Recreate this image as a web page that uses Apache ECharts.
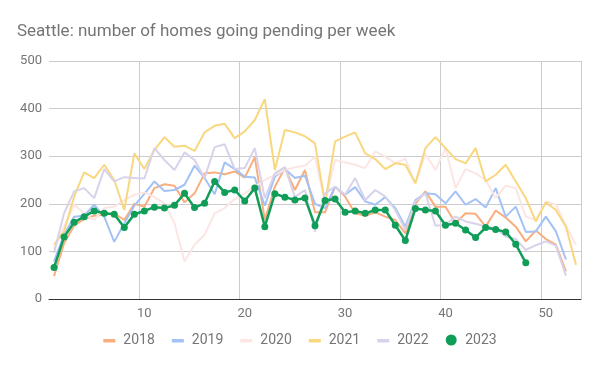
<!DOCTYPE html>
<html><head><meta charset="utf-8">
<script src="https://cdn.jsdelivr.net/npm/echarts@6/dist/echarts.min.js"></script>
<style>html,body{margin:0;padding:0;background:#fff}#c{width:600px;height:371px}</style>
</head><body><div id="c"></div>
<script>
const weeks = Array.from({length:53},(_,i)=>String(i+1));
const s2018 = [48,117,154,168,175,177,180,166,200,194,233,241,238,203,222,264,266,262,268,255,298,166,236,275,229,271,182,182,236,215,180,175,182,173,166,138,200,226,194,194,159,180,179,152,186,171,152,121,144,126,114,58];
const s2019 = [79,135,173,175,198,173,120,159,196,221,247,227,229,240,280,254,220,287,273,257,255,196,257,273,254,259,200,191,236,219,235,205,198,214,191,152,208,222,220,201,226,198,210,192,233,173,194,141,142,173,142,83];
const s2020 = [105,152,198,180,166,191,194,208,219,224,214,201,159,79,114,135,180,191,210,222,236,250,261,271,277,280,299,201,292,287,282,275,310,299,285,295,243,305,271,317,233,273,264,250,212,238,233,173,166,205,198,154,114];
const s2021 = [114,142,215,266,254,282,250,187,306,273,313,340,320,322,311,350,364,368,338,352,376,420,271,355,350,342,327,201,331,341,350,306,294,273,285,282,243,317,340,317,294,285,317,247,261,282,247,212,163,203,187,152,72];
const s2022 = [97,180,226,233,212,273,247,256,254,253,317,292,271,308,292,254,319,325,273,275,317,212,264,277,214,229,142,222,236,219,254,208,229,215,187,145,205,222,154,156,173,163,158,152,149,131,126,103,113,121,112,49];
const s2023 = [66,130,161,173,185,180,178,150,178,185,193,191,197,222,192,201,247,224,229,206,233,152,221,214,208,212,154,207,210,182,185,180,187,187,155,123,190,187,185,155,159,145,129,150,146,141,115,76];
const yTicks = [0,100,200,300,400,500];
const xLabelWeeks = [10,20,30,40,50];

const chart = echarts.init(document.getElementById('c'), null, {renderer:'canvas'});
const bar = 'path://M0,0L0,0M0,11L0,11M0,4.5h12v3.5h-12z';
function lineSeries(name, data, color){
  return {name, type:'line', data, symbol:'none', showSymbol:false, lineStyle:{width:2, color}, itemStyle:{color}, z:2, silent:true};
}
chart.setOption({
  animation:false,
  title:{text:'Seattle: number of homes going pending per week', left:12, top:18,
    textStyle:{fontFamily:'Roboto', fontSize:17, fontWeight:'normal', color:'#757575'}},
  grid:{left:49, right:19, top:61, bottom:72},
  legend:{bottom:19, left:'center', itemWidth:12, itemHeight:11, itemGap:17,
    textStyle:{fontFamily:'Roboto', fontSize:14, color:'#757575', padding:[0,0,0,3]},
    data:[{name:'2018',icon:bar},{name:'2019',icon:bar},{name:'2020',icon:bar},{name:'2021',icon:bar},{name:'2022',icon:bar},{name:'2023',icon:'circle'}]},
  xAxis:{type:'category', data:weeks, boundaryGap:true,
    axisLine:{lineStyle:{color:'#333', width:1}},
    axisTick:{show:false},
    axisLabel:{interval:(i,v)=>xLabelWeeks.includes(+v), color:'#757575', fontFamily:'Roboto', fontSize:13, margin:8},
    splitLine:{show:true, interval:(i,v)=>xLabelWeeks.includes(+v), lineStyle:{color:'#cccccc'}}},
  yAxis:{type:'value', min:yTicks[0], max:yTicks[yTicks.length-1], interval:100,
    axisLine:{show:false}, axisTick:{show:false},
    axisLabel:{color:'#757575', fontFamily:'Roboto', fontSize:13, margin:7},
    splitLine:{lineStyle:{color:'#cccccc'}}},
  series:[
    lineSeries('2018', s2018, '#F9AE7E'),
    lineSeries('2019', s2019, '#A3C2F5'),
    lineSeries('2020', s2020, '#FBE6E4'),
    lineSeries('2021', s2021, '#F8D77E'),
    lineSeries('2022', s2022, '#D8D2EA'),
    {name:'2023', type:'line', data:s2023, symbol:'circle', symbolSize:7, showSymbol:true, showAllSymbol:true,
      lineStyle:{width:2.5, color:'#0F9D58'}, itemStyle:{color:'#0F9D58'}, z:5}
  ]
});
</script></body></html>
